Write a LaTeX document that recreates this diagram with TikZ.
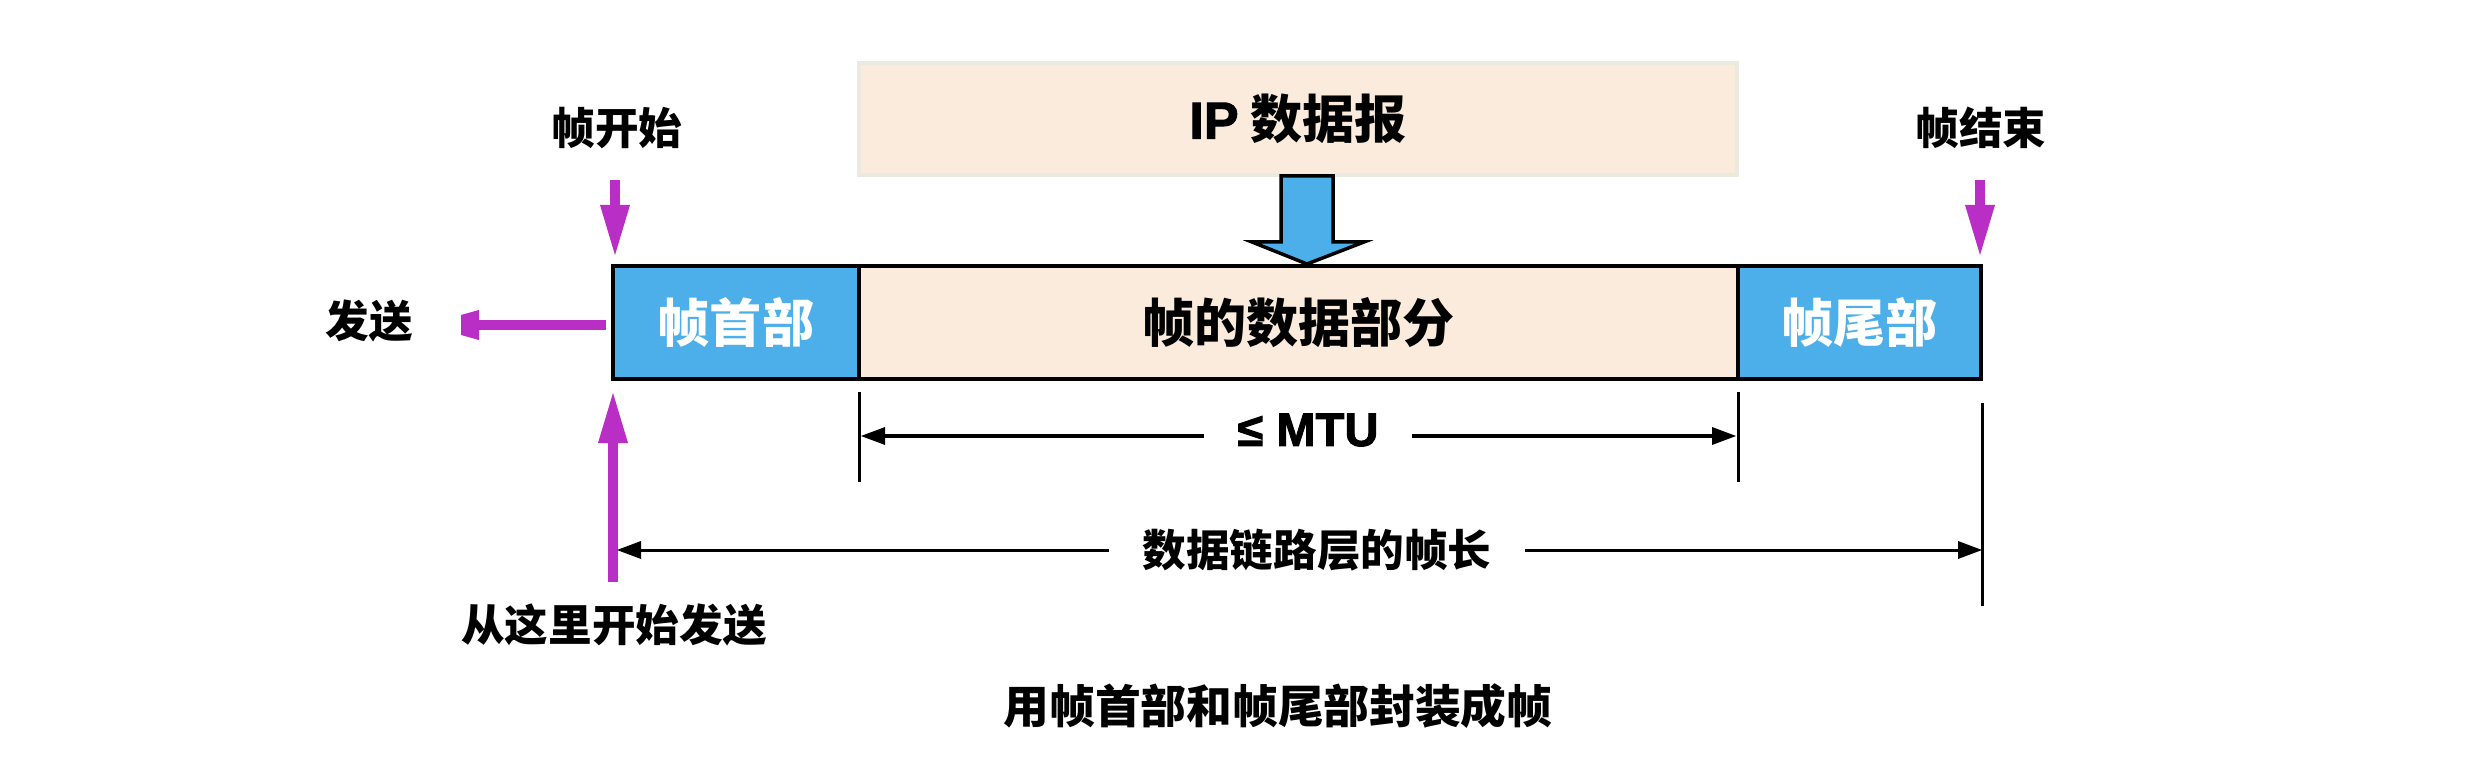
\documentclass[tikz,border=0pt]{standalone}
\usepackage{fontspec}
\setmainfont{Noto Sans CJK SC}[BoldFont={Noto Sans CJK SC Black}]
\newfontfamily\latinf{Liberation Sans Bold}[FakeBold=2]
\usetikzlibrary{arrows.meta}
\definecolor{boxblue}{RGB}{77,175,234}
\definecolor{beige}{RGB}{250,235,220}
\definecolor{beigeedge}{RGB}{236,234,224}
\definecolor{mag}{RGB}{185,46,196}
\begin{document}
\begin{tikzpicture}[x=0.01cm,y=-0.01cm,
  field/.style={draw=black, line width=0.04cm, minimum height=1.13cm, inner sep=0pt,
    font=\bfseries\fontsize{14.8}{16}\selectfont},
  lbl/.style={inner sep=0pt, font=\bfseries\fontsize{12.4}{14}\selectfont},
  dimlbl/.style={inner ysep=0pt, inner xsep=0.33cm},
  parr/.style={draw=mag, line width=0.1cm, -{Triangle[length=0.5cm,width=0.3cm,line width=0pt]}},
  darr/.style={draw=black, line width=0.03cm, -{Triangle[length=0.24cm,width=0.18cm,line width=0pt]}},
  tick/.style={draw=black, line width=0.03cm}]
\useasboundingbox (0,0) rectangle (2488,764);
\fill[white] (0,0) rectangle (2488,764);

% IP datagram box
\node[draw=beigeedge, line width=0.04cm, fill=beige, minimum width=8.78cm, minimum height=1.12cm,
  inner sep=0pt, font=\bfseries\fontsize{14.8}{16}\selectfont] (ip) at (1298,119) {{\latinf\mdseries IP} 数据报};

% frame fields
\node[field, fill=boxblue, text=white, minimum width=2.46cm] (hdr) at (736,322.5) {帧首部};
\node[field, fill=beige, minimum width=8.79cm] (data) at (1298.5,322.5) {帧的数据部分};
\node[field, fill=boxblue, text=white, minimum width=2.43cm] (tail) at (1859.5,322.5) {帧尾部};

% blue block arrow
\draw[fill=boxblue, line width=0.035cm, line join=miter]
  (1281,176) -- (1333,176) -- (1333,242) -- (1364,242) -- (1307,264) -- (1252,242) -- (1281,242) -- cycle;

% labels
\node[lbl] (start) at (617,128) {帧开始};
\node[lbl] (end) at (1981,128) {帧结束};
\node[lbl] (send) at (369,321) {发送};
\node[lbl] (here) at (614,625) {从这里开始发送};
\node[lbl, font=\bfseries\fontsize{13}{15}\selectfont] (cap) at (1278,706) {用帧首部和帧尾部封装成帧};

% purple arrows
\coordinate (fsA) at (615,180); \coordinate (fsB) at (615,255);
\coordinate (feA) at (1980,180); \coordinate (feB) at (1980,255);
\coordinate (hA) at (613,582); \coordinate (hB) at (613,393);
\coordinate (sA) at (606,325); \coordinate (sB) at (479,325);
\draw[parr] (fsA) -- (fsB);
\draw[parr] (feA) -- (feB);
\draw[parr] (hA) -- (hB);
\draw[draw=mag, line width=0.1cm] (sA) -- (sB);
\fill[mag] (479,310) -- (479,340) -- (461,335) -- (461,315) -- cycle;

% dimension ticks
\coordinate (t1a) at (859,392); \coordinate (t1b) at (859,482);
\coordinate (t2a) at (1738,392); \coordinate (t2b) at (1738,482);
\coordinate (t3a) at (1982,403); \coordinate (t3b) at (1982,606);
\draw[tick] (t1a) -- (t1b);
\draw[tick] (t2a) -- (t2b);
\draw[tick] (t3a) -- (t3b);

% MTU dimension
\node[dimlbl, font=\latinf\fontsize{13.4}{15}\selectfont] (mtu) at (1308,430) {≤ MTU};
\coordinate (mL) at (861,436); \coordinate (mR) at (1736,436);
\draw[darr] (mtu.west |- mL) -- (mL);
\draw[darr] (mtu.east |- mR) -- (mR);

% frame length dimension
\node[dimlbl, font=\bfseries\fontsize{12.4}{14}\selectfont] (len) at (1317,550) {数据链路层的帧长};
\coordinate (lL) at (617,550); \coordinate (lR) at (1982,550);
\draw[darr] (len.west) -- (lL);
\draw[darr] (len.east) -- (lR);
\end{tikzpicture}
\end{document}
